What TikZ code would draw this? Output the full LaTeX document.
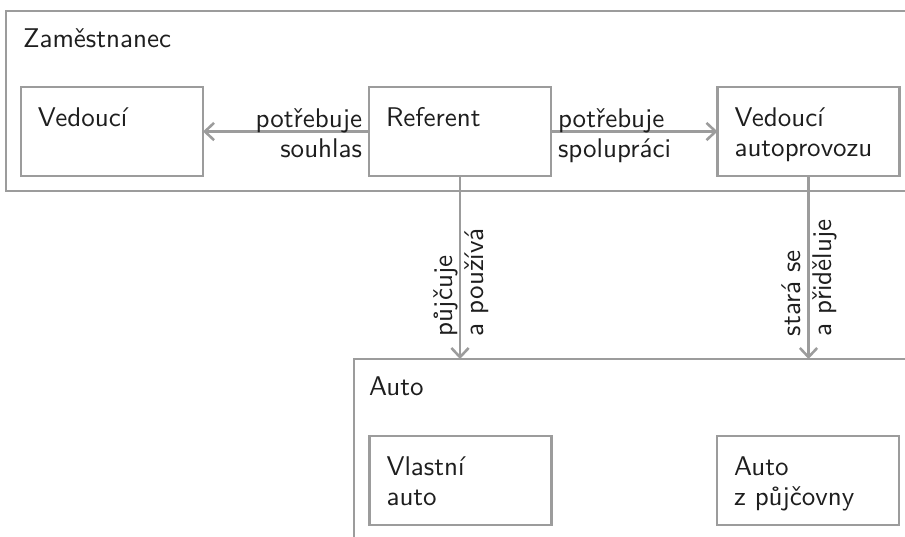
\documentclass[tikz,border=0pt]{standalone}
\usepackage{fontspec}
\usetikzlibrary{arrows.meta}
\definecolor{edgegray}{HTML}{9C9C9C}
\definecolor{ink}{HTML}{1E1E1E}
\begin{document}
\begin{tikzpicture}[x=0.37pt, y=-0.37pt,
  font=\sffamily\fontsize{10}{11.4}\selectfont,
  frame/.style={draw=edgegray, line width=0.95pt, inner sep=0pt, outer sep=0pt},
  entity/.style={frame, minimum width=67.34pt, minimum height=32.93pt},
  caption/.style={text=ink, inner sep=0pt, outer sep=0pt},
  relation/.style={draw=edgegray, line width=0.95pt, -{Straight Barb[length=3.4pt, width=6.4pt]}},
]
\useasboundingbox (0,0) rectangle (905,536);
\clip (0,0) rectangle (905,536);

% group containers
\node[frame, anchor=north west, minimum width=340.03pt, minimum height=66.6pt] (emp) at (6,11) {};
\node[caption, anchor=base west] (empname) at (23,47) {Zaměstnanec};
\node[frame, anchor=north west, minimum width=211.27pt, minimum height=74.37pt] (car) at (354,359) {};
\node[caption, anchor=base west] (carname) at (369,395) {Auto};

% entities
\node[entity] (boss) at (112,131.5) {};
\node[entity] (clerk) at (460,131.5) {};
\node[entity] (fleet) at (808.5,131.5) {};
\node[entity] (own) at (460.5,480.5) {};
\node[entity] (rent) at (808,480.5) {};

% entity names (the base anchor of a two-line name sits on its second line)
\node[caption, anchor=base west] (bosst) at ([shift={(17,39)}]boss.north west) {Vedoucí};
\node[caption, anchor=base west] (clerkt) at ([shift={(17,39)}]clerk.north west) {Referent};
\node[caption, anchor=base west, align=left] (fleett) at ([shift={(17,69.8)}]fleet.north west) {Vedoucí\\autoprovozu};
\node[caption, anchor=base west, align=left] (ownt) at ([shift={(17,69.8)}]own.north west) {Vlastní\\auto};
\node[caption, anchor=base west, align=left] (rentt) at ([shift={(17,69.8)}]rent.north west) {Auto\\z půjčovny};

% relations
\draw[relation] (clerk.west) -- (boss.east);
\draw[relation] (clerk.east) -- (fleet.west);
\draw[relation] (clerk.south) -- (clerk.south |- car.north);
\draw[relation] (fleet.south) -- (fleet.south |- car.north);

\node[caption, anchor=base east, align=right] (l1) at (362,157.8) {potřebuje\\souhlas};
\node[caption, anchor=base west, align=left] (l2) at (558,157.8) {potřebuje\\spolupráci};
\node[caption, anchor=base west, align=left, rotate=90] (l3) at (483,336) {půjčuje\\a používá};
\node[caption, anchor=base west, align=left, rotate=90] (l4) at (831,336) {stará se\\a přiděluje};
\end{tikzpicture}
\end{document}
